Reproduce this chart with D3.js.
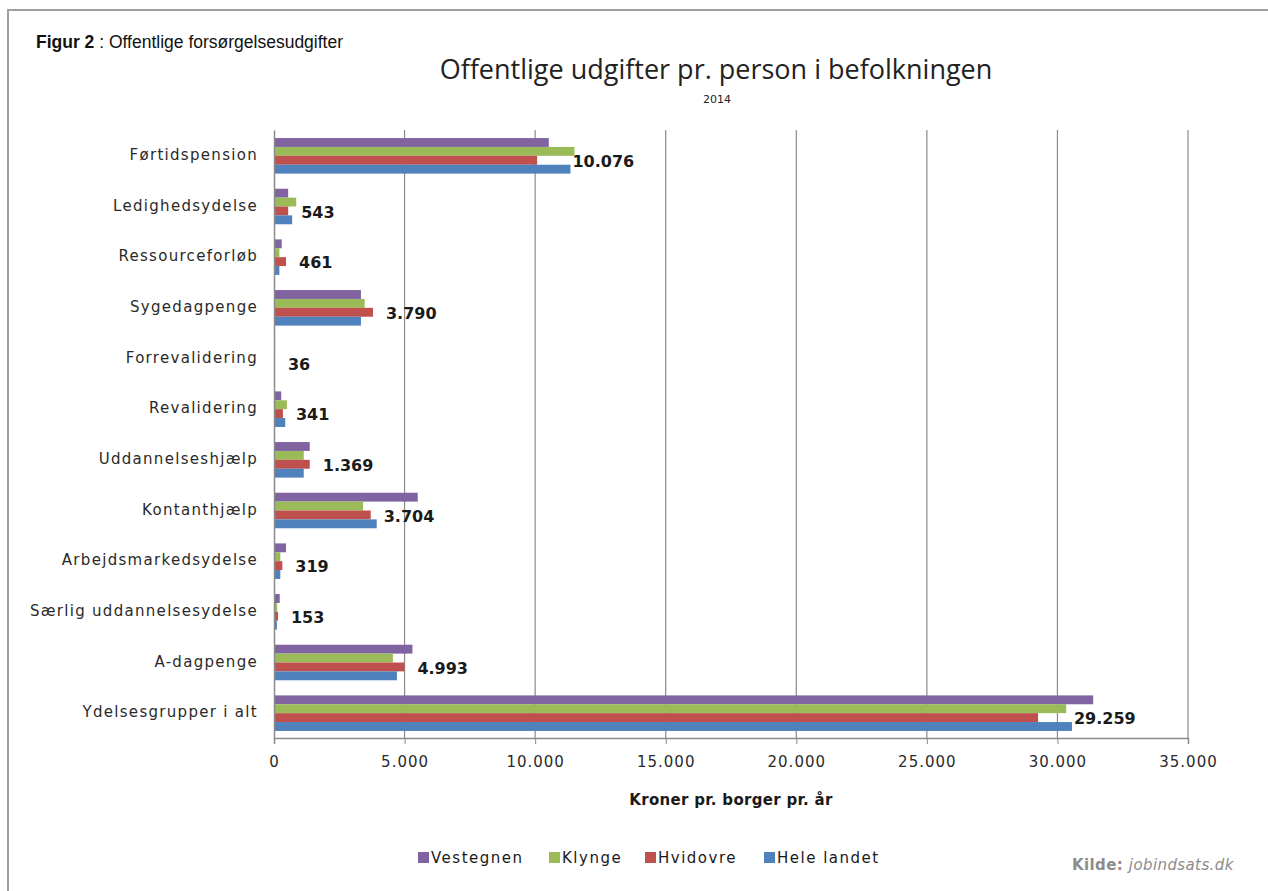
<!DOCTYPE html>
<html>
<head>
<meta charset="utf-8">
<script src="https://cdn.jsdelivr.net/npm/d3@7"></script>
<style>
  body { margin: 0; background: #fff; }
  svg { display: block; }
</style>
</head>
<body>
<svg id="chart"></svg>
<script>
// Categories, top to bottom
const categories = [
  'Førtidspension', 'Ledighedsydelse', 'Ressourceforløb', 'Sygedagpenge',
  'Forrevalidering', 'Revalidering', 'Uddannelseshjælp', 'Kontanthjælp',
  'Arbejdsmarkedsydelse', 'Særlig uddannelsesydelse', 'A-dagpenge', 'Ydelsesgrupper i alt'
];

// Series values (kr. pr. borger pr. år)
const vestegnen  = [10523, 543, 295, 3330, 40, 277, 1369, 5504, 459, 220, 5301, 31369];
const klynge     = [11506, 849, 206, 3471, 30, 494, 1139, 3410, 242, 120, 4553, 30336];
const hvidovre   = [10076, 543, 461, 3790, 36, 341, 1369, 3704, 319, 153, 4993, 29259];
const heleLandet = [11353, 696, 206, 3330, 35, 430, 1139, 3934, 242, 110, 4707, 30556];

const seriesNames = ['Vestegnen', 'Klynge', 'Hvidovre', 'Hele landet'];
const seriesColors = ['#8064A2', '#9BBB59', '#C0504D', '#4F81BD'];
const xTicks = [0, 5000, 10000, 15000, 20000, 25000, 30000, 35000];

const series = [vestegnen, klynge, hvidovre, heleLandet];
const labelSeries = 2; // Hvidovre is labelled

const W = 1268, H = 891;
const margin = { top: 130, left: 274, right: 80, bottom: 153 };
const width = 1188 - margin.left;
const height = 738 - margin.top;

const locale = d3.formatLocale({ decimal: ',', thousands: '.', grouping: [3], currency: ['', ' kr'] });
const fmt = locale.format(',d');

const svg = d3.select('#chart').attr('width', W).attr('height', H);

// Outer frame (only left and top edges visible)
svg.append('rect')
  .attr('x', 8).attr('y', 10)
  .attr('width', 1400).attr('height', 1000)
  .attr('fill', 'none')
  .attr('stroke', '#a0a0a0')
  .attr('stroke-width', 2);

// Figure caption
const cap = svg.append('text')
  .attr('x', 36).attr('y', 48)
  .style('font-family', '"Liberation Sans", sans-serif')
  .style('font-size', '17.5px')
  .attr('fill', '#111');
cap.append('tspan').style('font-weight', 'bold').text('Figur 2');
cap.append('tspan').text(' : Offentlige forsørgelsesudgifter');

// Title
svg.append('text')
  .attr('x', 716).attr('y', 79)
  .attr('text-anchor', 'middle')
  .style('font-family', '"Open Sans", sans-serif')
  .style('font-size', '27px')
  .attr('fill', '#222')
  .text('Offentlige udgifter pr. person i befolkningen');

svg.append('text')
  .attr('x', 717).attr('y', 103)
  .attr('text-anchor', 'middle')
  .style('font-family', '"DejaVu Sans", sans-serif')
  .style('font-size', '11px')
  .attr('fill', '#222')
  .text('2014');

const g = svg.append('g').attr('transform', `translate(${margin.left},${margin.top})`);

// Scales
const x = d3.scaleLinear().domain([0, 35000]).range([0, width]);
const y = d3.scaleBand().domain(categories).range([0, height]).padding(0);
const ySub = d3.scaleBand().domain(d3.range(series.length)).range([0, y.bandwidth()])
  .paddingInner(0).paddingOuter(0.85);

// Grid lines
g.append('g')
  .selectAll('line')
  .data(xTicks.slice(1))
  .join('line')
  .attr('x1', d => x(d)).attr('x2', d => x(d))
  .attr('y1', 0).attr('y2', height)
  .attr('stroke', '#8a8a8a')
  .attr('stroke-width', 1.2);

// Bars
const groups = g.selectAll('.cat')
  .data(categories)
  .join('g')
  .attr('class', 'cat')
  .attr('transform', d => `translate(0,${y(d)})`);

groups.selectAll('rect')
  .data((c, i) => series.map((s, k) => ({ k, v: s[i] })))
  .join('rect')
  .attr('x', 0)
  .attr('y', d => ySub(d.k) + 0.5)
  .attr('width', d => x(d.v))
  .attr('height', ySub.bandwidth())
  .attr('fill', d => seriesColors[d.k]);

// Value labels for Hvidovre
groups.append('text')
  .attr('x', (c, i) => Math.max(x(hvidovre[i]) + 13, x(heleLandet[i]) + 2))
  .attr('y', () => ySub(labelSeries) + ySub.bandwidth() / 2 + 1.5)
  .attr('dy', '0.36em')
  .style('font-family', '"DejaVu Sans", sans-serif')
  .style('font-size', '16px')
  .style('font-weight', 'bold')
  .attr('fill', '#1a1a1a')
  .text((c, i) => fmt(hvidovre[i]));

// Category axis
const yAxisG = g.append('g').call(d3.axisLeft(y).tickSize(0).tickPadding(16));
yAxisG.select('.domain').attr('stroke', '#8a8a8a').attr('stroke-width', 1.5);
yAxisG.selectAll('text')
  .style('font-family', '"DejaVu Sans", sans-serif')
  .style('font-size', '15px')
  .style('letter-spacing', '1.3px')
  .attr('fill', '#2a2a2a');

// Value axis
const xAxisG = g.append('g')
  .attr('transform', `translate(0,${height})`)
  .call(d3.axisBottom(x).tickValues(xTicks).tickFormat(fmt).tickSize(6).tickPadding(12));
xAxisG.select('.domain').attr('stroke', '#8a8a8a').attr('stroke-width', 1.5);
xAxisG.selectAll('.tick line').attr('stroke', '#8a8a8a');
xAxisG.selectAll('text')
  .style('font-family', '"DejaVu Sans", sans-serif')
  .style('font-size', '15px')
  .style('letter-spacing', '1px')
  .attr('fill', '#2a2a2a');

// Axis title
svg.append('text')
  .attr('x', 731).attr('y', 805)
  .attr('text-anchor', 'middle')
  .style('font-family', '"DejaVu Sans", sans-serif')
  .style('font-size', '15px')
  .style('font-weight', 'bold')
  .style('letter-spacing', '0.3px')
  .attr('fill', '#1a1a1a')
  .text('Kroner pr. borger pr. år');

// Legend
const legendX = [418, 549, 645, 764];
const legend = svg.append('g')
  .selectAll('g')
  .data(seriesNames)
  .join('g')
  .attr('transform', (d, i) => `translate(${legendX[i]},852)`);
legend.append('rect')
  .attr('width', 11).attr('height', 11)
  .attr('fill', (d, i) => seriesColors[i]);
legend.append('text')
  .attr('x', 13).attr('y', 6)
  .attr('dy', '0.36em')
  .style('font-family', '"DejaVu Sans", sans-serif')
  .style('font-size', '15px')
  .style('letter-spacing', '1.5px')
  .attr('fill', '#1a1a1a')
  .text(d => d);

// Source
const src = svg.append('text')
  .attr('x', 1072).attr('y', 870)
  .style('font-family', '"DejaVu Sans", sans-serif')
  .style('font-size', '15px')
  .style('letter-spacing', '0.4px')
  .attr('fill', '#8c8c8c');
src.append('tspan').style('font-weight', 'bold').text('Kilde: ');
src.append('tspan').style('font-style', 'italic').text('jobindsats.dk');
</script>
</body>
</html>
